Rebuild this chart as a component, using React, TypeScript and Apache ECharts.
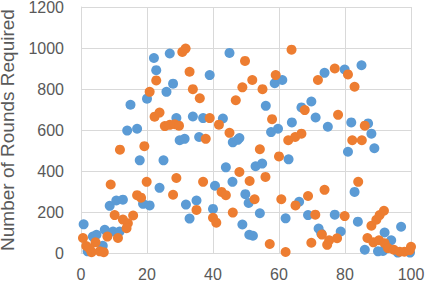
import React, { useEffect, useRef } from "react";
import * as echarts from "echarts";

const xTicks = { min: 0, max: 100, interval: 20 };
const yTicks = { min: 0, max: 1200, interval: 200 };
const yTitle = "Number of Rounds Required";

const seriesBlue: [number, number][] = [
  [0.8, 140], [2, 8], [3.6, 80], [4.7, 89], [6.6, 35], [7.2, 113], [9.7, 105], [11.7, 105],
  [8.7, 230], [10.7, 256], [12.7, 260], [18.8, 240], [20.8, 232], [17.8, 452], [25, 452],
  [23.8, 318], [14, 597], [17, 606], [15, 723], [20, 753], [22.1, 951], [22.8, 892],
  [25.9, 786], [26.9, 973], [27.9, 826], [28.9, 658], [29.9, 550], [31.4, 557], [33.9, 666],
  [35.8, 566], [37, 658], [39, 868], [43, 656], [45, 976], [46, 540], [47.5, 552], [48, 561],
  [31.8, 236], [35, 256], [32.9, 168], [40, 215], [40.6, 328], [43.9, 418], [45.9, 347],
  [48.9, 139], [49.8, 287], [50.8, 244], [51, 89], [52.1, 84], [54.2, 194], [52.9, 423],
  [54.9, 436], [56, 718], [57.6, 590], [59.7, 606], [58.7, 828], [61, 844], [62.9, 457],
  [62, 169], [63.9, 637], [66.1, 250], [66.8, 710], [68.8, 185], [69.8, 739], [71.1, 661],
  [72, 119], [72.8, 95], [73.8, 879], [74.8, 616], [76.9, 187], [78.7, 105], [79.9, 895],
  [80.9, 494], [81.9, 637], [82.9, 298], [83.9, 153], [85, 916], [86, 16], [87, 632],
  [88, 582], [88.9, 511], [90, 8], [92, 100], [94, 62], [97, 128], [91.5, 10], [96, 2],
  [99.7, 2],
];

const seriesOrange: [number, number][] = [
  [0.6, 73], [1.6, 34], [3.2, 4], [4.4, 52], [5.7, 8], [6.9, 4], [2.6, 22], [8, 80],
  [11.2, 73], [9, 334], [10.2, 185], [12.7, 163], [14.2, 145], [13.8, 121], [15.8, 183],
  [17, 282], [18.2, 270], [11.8, 504], [19.2, 521], [19.9, 347], [22.3, 665], [23.8, 685],
  [25.4, 619], [26.9, 625], [28.4, 628], [29.7, 621], [20.8, 786], [22.8, 842], [27.9, 284],
  [28.9, 366], [30.7, 981], [31.7, 997], [32.9, 884], [33.9, 799], [36, 755], [35, 210],
  [37, 347], [37.8, 557], [39, 658], [41.8, 626], [40, 172], [41, 148], [42.6, 298],
  [43.9, 282], [45, 586], [46, 197], [46.9, 745], [48, 395], [48.9, 808], [49.7, 937],
  [51.1, 351], [51.9, 844], [52.6, 262], [54.2, 506], [55, 799], [55.9, 371], [57.2, 44],
  [57.9, 653], [59, 868], [60, 471], [60.7, 262], [62, 5], [62.8, 550], [63.8, 992],
  [64.9, 566], [66.8, 582], [65, 232], [67.8, 697], [68.8, 278], [69.8, 50], [71, 187],
  [71.8, 844], [73, 90], [73.8, 308], [74.6, 40], [75.2, 62], [76.9, 900], [77.6, 72],
  [77.9, 674], [79.9, 180], [80.9, 871], [82.2, 550], [82.9, 811], [84, 347], [85.1, 550],
  [86, 621], [88, 133], [89.5, 162], [90.5, 185], [91.8, 206], [86.8, 73], [88.6, 52],
  [90.3, 62], [92, 48], [93, 24], [94.8, 16], [96.6, 6], [98, 6], [99.6, 14], [100, 30],
];

const AXIS_GREY = "#d9d9d9";
const TEXT_GREY = "#595959";
const FONT = "'Liberation Sans', Arial, sans-serif";

export default function App() {
  const ref = useRef<HTMLDivElement>(null);
  useEffect(() => {
    if (!ref.current) return;
    const chart = echarts.init(ref.current, undefined, { renderer: "svg" });
    chart.setOption({
      animation: false,
      backgroundColor: "#ffffff",
      grid: { left: 81, right: 14, top: 7, bottom: 31, containLabel: false, outerBoundsMode: "none" },
      xAxis: {
        type: "value",
        min: xTicks.min,
        max: xTicks.max,
        interval: xTicks.interval,
        axisLine: { show: true, lineStyle: { color: AXIS_GREY, width: 1 } },
        axisTick: { show: false },
        splitLine: { show: true, lineStyle: { color: AXIS_GREY, width: 1 } },
        axisLabel: {
          color: TEXT_GREY, fontSize: 16, fontFamily: FONT, margin: 14, lineHeight: 14,
          formatter: (v: number) => String(v),
        },
      },
      yAxis: {
        type: "value",
        min: yTicks.min,
        max: yTicks.max,
        interval: yTicks.interval,
        name: yTitle,
        nameLocation: "middle",
        nameRotate: 90,
        nameGap: 58,
        nameTextStyle: { color: TEXT_GREY, fontSize: 19, fontFamily: FONT, lineHeight: 20 },
        axisLine: { show: true, lineStyle: { color: AXIS_GREY, width: 1 } },
        axisTick: { show: false },
        splitLine: { show: true, lineStyle: { color: AXIS_GREY, width: 1 } },
        axisLabel: {
          color: TEXT_GREY, fontSize: 16, fontFamily: FONT, margin: 17, lineHeight: 14,
          formatter: (v: number) => String(v),
        },
      },
      series: [
        {
          type: "scatter",
          data: seriesBlue,
          symbol: "circle",
          symbolSize: 10,
          itemStyle: { color: "#5B9BD5", opacity: 1 },
        },
        {
          type: "scatter",
          data: seriesOrange,
          symbol: "circle",
          symbolSize: 10,
          itemStyle: { color: "#ED7D31", opacity: 1 },
        },
      ],
    });
    return () => chart.dispose();
  }, []);
  return (
    <div
      ref={ref}
      style={{ position: "fixed", left: 0, top: 0, width: 425, height: 284, background: "#fff" }}
    />
  );
}
